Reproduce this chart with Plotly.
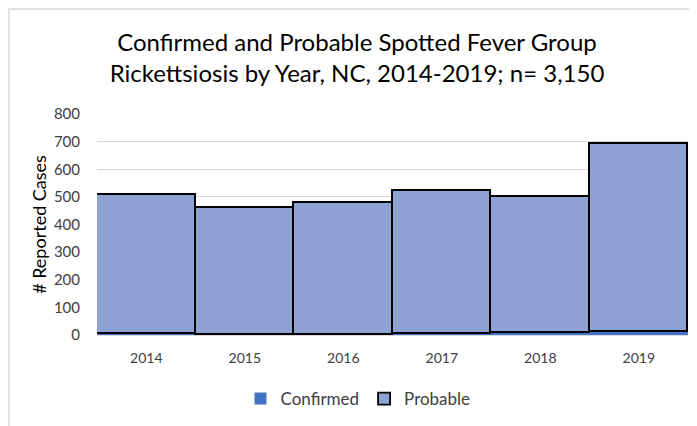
import plotly.graph_objects as go

years = ["2014", "2015", "2016", "2017", "2018", "2019"]
confirmed = [2, 1, 1, 2, 6, 10]
probable = [503, 457, 476, 520, 492, 680]
y_ticks = [0, 100, 200, 300, 400, 500, 600, 700, 800]

FONT = "Lato"

fig = go.Figure()
fig.add_trace(go.Bar(
    x=years, y=confirmed, name="Confirmed",
    marker=dict(color="#4472C4", line=dict(width=0)),
))
fig.add_trace(go.Bar(
    x=years, y=probable, name="Probable",
    marker=dict(color="#8FA2D4", line=dict(color="black", width=1.8)),
))

# page has an 8px body margin; compensate
OFF = 8
W, H = 697 - OFF, 426 - OFF
L, R, T, B = 97 - OFF, 9, 114 - OFF, 91
pw = W - L - R
ph = H - T - B

def px2x(p):
    return (p - OFF - L) / pw

def px2y(p):
    return (H - B - (p - OFF)) / ph

fig.update_layout(
    width=W, height=H,
    margin=dict(l=L, r=R, t=T, b=B),
    barmode="stack", bargap=0,
    plot_bgcolor="white", paper_bgcolor="white",
    font=dict(family=FONT, color="#595959", size=13),
    title=dict(
        text="Confirmed and Probable Spotted Fever Group<br>Rickettsiosis by Year, NC, 2014-2019; n= 3,150",
        x=(357 - OFF) / W, xanchor="center", y=1 - (51 - OFF) / H, yanchor="middle",
        font=dict(family=FONT, size=24, color="black"),
    ),
    xaxis=dict(
        showline=True, linecolor="#d9d9d9", linewidth=1,
        ticks="outside", ticklen=10, tickcolor="rgba(0,0,0,0)",
        tickfont=dict(size=14, color="#404040"),
        showgrid=False,
    ),
    yaxis=dict(
        range=[0, 800], tickvals=y_ticks,
        showgrid=True, gridcolor="#d9d9d9", gridwidth=1,
        zeroline=False, showline=False,
        ticks="outside", ticklen=13, tickcolor="rgba(0,0,0,0)",
        tickfont=dict(size=15, color="#404040"),
        title=dict(text="# Reported Cases", font=dict(size=18, color="black"), standoff=2),
    ),
    legend=dict(
        orientation="h", x=px2x(358), xanchor="center",
        y=px2y(399), yanchor="middle",
        font=dict(size=17, color="#404040"),
        traceorder="normal", itemwidth=30,
    ),
    shapes=[dict(
        type="rect", xref="paper", yref="paper",
        x0=px2x(9), x1=px2x(720), y0=px2y(440), y1=px2y(9),
        line=dict(color="#d9d9d9", width=1.5), fillcolor="rgba(0,0,0,0)",
        layer="below",
    )],
)

fig.write_html("out.html")
